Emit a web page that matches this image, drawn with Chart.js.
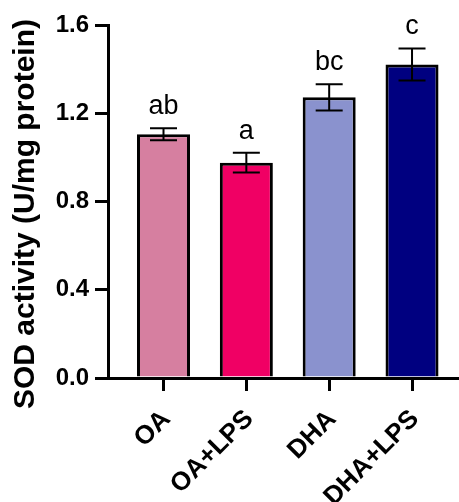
<!DOCTYPE html>
<html>
<head>
<meta charset="utf-8">
<script src="https://cdn.jsdelivr.net/npm/chart.js@4.4.1/dist/chart.umd.min.js"></script>
<style>
  html, body { margin: 0; padding: 0; background: #fff; }
  #wrap { width: 459px; height: 502px; }
</style>
</head>
<body>
<div id="wrap"><canvas id="chart"></canvas></div>
<script>
// Data
const categories = ['OA', 'OA+LPS', 'DHA', 'DHA+LPS'];
const means = [1.105, 0.976, 1.272, 1.421];
const errors = [0.027, 0.045, 0.060, 0.073];
const letters = ['ab', 'a', 'bc', 'c'];
const barColors = ['#D67FA0', '#F00064', '#8A92CE', '#000080'];
const yTicks = [0, 0.4, 0.8, 1.2, 1.6];

const FONT = '"Liberation Sans", Arial, sans-serif';

// error bars + significance letters
const errorBars = {
    id: 'errorBars',
    afterDatasetsDraw(chart) {
        const { ctx, scales: { x, y } } = chart;
        ctx.save();
        ctx.strokeStyle = '#000';
        ctx.lineWidth = 2;
        ctx.fillStyle = '#000';
        ctx.font = '27px ' + FONT;
        ctx.textAlign = 'center';
        ctx.textBaseline = 'bottom';
        means.forEach((m, i) => {
            const px = x.getPixelForValue(i);
            const top = y.getPixelForValue(m + errors[i]);
            const bot = y.getPixelForValue(m - errors[i]);
            const half = 13.5;
            ctx.beginPath();
            ctx.moveTo(px, top); ctx.lineTo(px, bot);
            ctx.moveTo(px - half, top); ctx.lineTo(px + half, top);
            ctx.moveTo(px - half, bot); ctx.lineTo(px + half, bot);
            ctx.stroke();
            ctx.fillText(letters[i], px, top - 8);
        });
        ctx.restore();
    }
};

new Chart(document.getElementById('chart'), {
    type: 'bar',
    data: {
        datasets: [{
            data: categories.map((c, i) => ({ x: i, y: means[i] })),
            backgroundColor: barColors,
            borderColor: '#000',
            borderWidth: 3,
            barPercentage: 0.64,
            categoryPercentage: 1
        }]
    },
    options: {
        responsive: true,
        maintainAspectRatio: false,
        animation: false,
        layout: { padding: { top: 25, right: 1, left: 0, bottom: 0 } },
        plugins: {
            legend: { display: false },
            tooltip: { enabled: false }
        },
        scales: {
            x: {
                type: 'linear',
                offset: false,
                min: -0.67,
                max: 3.555,
                afterBuildTicks(scale) {
                    scale.ticks = categories.map((c, i) => ({ value: i }));
                },
                afterFit(scale) { scale.height = 124; },
                ticks: {
                    autoSkip: false,
                    maxRotation: 45,
                    minRotation: 45,
                    padding: 13,
                    labelOffset: 3,
                    color: '#000',
                    font: { family: FONT, size: 26, weight: 'bold' },
                    callback: (v) => categories[v]
                },
                grid: {
                    offset: false,
                    drawOnChartArea: false,
                    tickLength: 13,
                    lineWidth: 3,
                    color: '#000'
                },
                border: { display: true, width: 3, color: '#000' }
            },
            y: {
                min: 0,
                max: 1.6,
                afterBuildTicks(scale) {
                    scale.ticks = yTicks.map(v => ({ value: v }));
                },
                afterFit(scale) { scale.width = 108; },
                ticks: {
                    padding: 6,
                    color: '#000',
                    font: { family: FONT, size: 24, weight: 'bold' },
                    callback: (v) => v.toFixed(1)
                },
                grid: {
                    drawOnChartArea: false,
                    tickLength: 13,
                    lineWidth: 3,
                    color: '#000'
                },
                border: { display: true, width: 3, color: '#000' },
                title: {
                    display: true,
                    text: 'SOD activity (U/mg protein)   ',
                    color: '#000',
                    font: { family: FONT, size: 30, weight: 'bold' },
                    padding: { top: 8, bottom: 0 }
                }
            }
        }
    },
    plugins: [errorBars]
});
</script>
</body>
</html>
